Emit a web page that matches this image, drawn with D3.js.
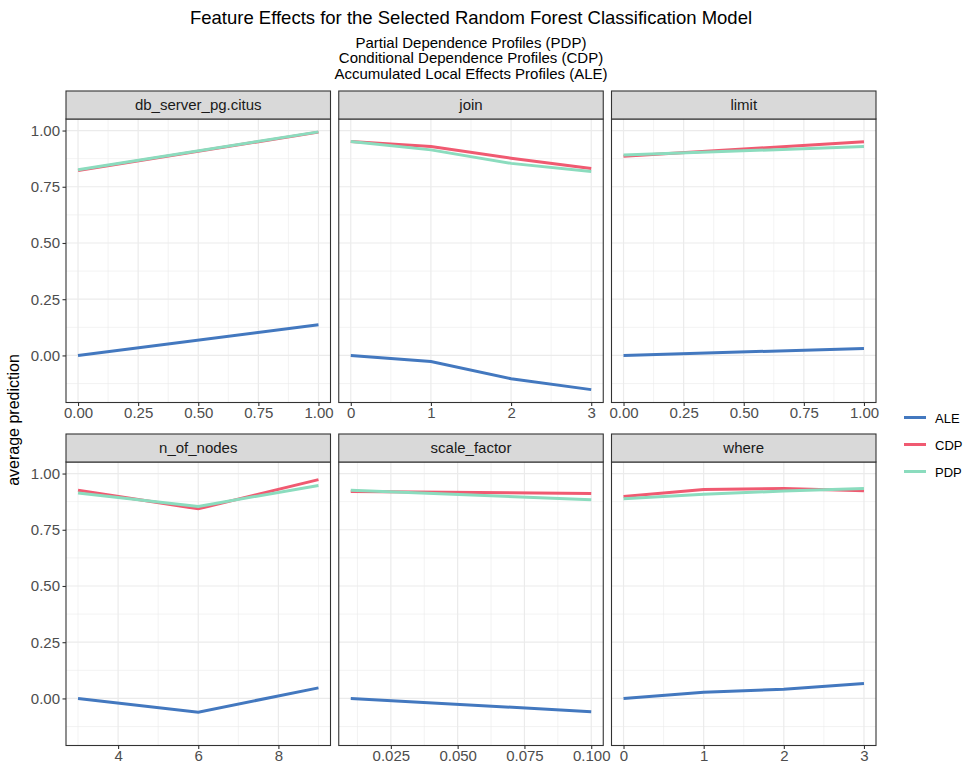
<!DOCTYPE html>
<html><head><meta charset="utf-8">
<script src="https://cdn.jsdelivr.net/npm/d3@7"></script>
<style>body{margin:0;background:#fff;} text{font-family:"Liberation Sans",Arial,sans-serif;}</style>
</head><body><svg id="c" width="964" height="767"></svg>
<script>
// ---- data ----
const panels = ["db_server_pg.citus","join","limit","n_of_nodes","scale_factor","where"];
const seriesNames = ["ALE","CDP","PDP"];
const colors = ["#4378bf","#f05a71","#8bdcbe"];
const xDb = [0,1];
const aleDb = [0.000,0.136];
const cdpDb = [0.822,0.993];
const pdpDb = [0.826,0.994];
const xJoin = [0,1,2,3];
const aleJoin = [0.000,-0.027,-0.104,-0.152];
const cdpJoin = [0.951,0.929,0.877,0.831];
const pdpJoin = [0.951,0.914,0.854,0.818];
const xLimit = [0,1];
const aleLimit = [0.000,0.031];
const cdpLimit = [0.886,0.950];
const pdpLimit = [0.891,0.929];
const xNodes = [3,6,9];
const aleNodes = [0.000,-0.061,0.047];
const cdpNodes = [0.926,0.843,0.973];
const pdpNodes = [0.913,0.854,0.947];
const xScale = [0.01,0.1];
const aleScale = [0.000,-0.059];
const cdpScale = [0.920,0.911];
const pdpScale = [0.926,0.883];
const xWhere = [0,1,2,3];
const aleWhere = [0.000,0.028,0.041,0.066];
const cdpWhere = [0.898,0.929,0.934,0.923];
const pdpWhere = [0.888,0.908,0.922,0.934];
const yTicks = [0,0.25,0.5,0.75,1];
const yTickLabels = ["0.00","0.25","0.50","0.75","1.00"];
const xTicksUnit = [0,0.25,0.5,0.75,1];
const xTickLabelsUnit = ["0.00","0.25","0.50","0.75","1.00"];
const xTicksInt = [0,1,2,3];
const xTickLabelsInt = ["0","1","2","3"];
const xTicksNodes = [4,6,8];
const xTickLabelsNodes = ["4","6","8"];
const xTicksScale = [0.025,0.05,0.075,0.1];
const xTickLabelsScale = ["0.025","0.050","0.075","0.100"];
const titleText = "Feature Effects for the Selected Random Forest Classification Model";
const subtitleLines = ["Partial Dependence Profiles (PDP)","Conditional Dependence Profiles (CDP)","Accumulated Local Effects Profiles (ALE)"];
const yLabel = "average prediction";

const panelData = [
  {x:xDb, s:[aleDb,cdpDb,pdpDb], ticks:xTicksUnit, labels:xTickLabelsUnit},
  {x:xJoin, s:[aleJoin,cdpJoin,pdpJoin], ticks:xTicksInt, labels:xTickLabelsInt},
  {x:xLimit, s:[aleLimit,cdpLimit,pdpLimit], ticks:xTicksUnit, labels:xTickLabelsUnit},
  {x:xNodes, s:[aleNodes,cdpNodes,pdpNodes], ticks:xTicksNodes, labels:xTickLabelsNodes},
  {x:xScale, s:[aleScale,cdpScale,pdpScale], ticks:xTicksScale, labels:xTickLabelsScale},
  {x:xWhere, s:[aleWhere,cdpWhere,pdpWhere], ticks:xTicksInt, labels:xTickLabelsInt}
];

// ---- layout ----
const svg = d3.select("#c");
const left0 = 66, pw = 264.5, gap = 8.25;
const rowTop = [91, 434], stripH = 28, ph = 283.5;
const tickFont = 15;

const allY = panelData.flatMap(p => p.s.flat());
const yMin = d3.min(allY), yMax = d3.max(allY), yPad = (yMax - yMin) * 0.05;

function minors(ticks, lo, hi){
  const st = ticks[1]-ticks[0];
  const out = [];
  const all = [ticks[0]-st, ...ticks, ticks[ticks.length-1]+st];
  for (let i=0;i<all.length-1;i++){ const m=(all[i]+all[i+1])/2; if(m>=lo && m<=hi) out.push(m); }
  return out;
}

panelData.forEach((p, i) => {
  const col = i % 3, row = Math.floor(i/3);
  const x0 = left0 + col*(pw+gap);
  const sy = rowTop[row];
  const py = sy + stripH;
  const g = svg.append("g");
  const xe = d3.extent(p.x), xpad = (xe[1]-xe[0])*0.05;
  const xs = d3.scaleLinear().domain([xe[0]-xpad, xe[1]+xpad]).range([x0, x0+pw]);
  const ys = d3.scaleLinear().domain([yMin-yPad, yMax+yPad]).range([py+ph, py]);
  g.append("rect").attr("x",x0).attr("y",py).attr("width",pw).attr("height",ph).attr("fill","#fff");
  const xd = xs.domain(), yd = ys.domain();
  const majT = p.ticks.filter(t=>t>=xd[0]&&t<=xd[1]);
  g.selectAll(null).data(minors(p.ticks, xd[0], xd[1])).join("line")
    .attr("x1",d=>xs(d)).attr("x2",d=>xs(d)).attr("y1",py).attr("y2",py+ph)
    .attr("stroke","#ebebeb").attr("stroke-width",0.6);
  g.selectAll(null).data(minors(yTicks, yd[0], yd[1])).join("line")
    .attr("x1",x0).attr("x2",x0+pw).attr("y1",d=>ys(d)).attr("y2",d=>ys(d))
    .attr("stroke","#ebebeb").attr("stroke-width",0.6);
  g.selectAll(null).data(majT).join("line")
    .attr("x1",d=>xs(d)).attr("x2",d=>xs(d)).attr("y1",py).attr("y2",py+ph)
    .attr("stroke","#ebebeb").attr("stroke-width",1.2);
  g.selectAll(null).data(yTicks).join("line")
    .attr("x1",x0).attr("x2",x0+pw).attr("y1",d=>ys(d)).attr("y2",d=>ys(d))
    .attr("stroke","#ebebeb").attr("stroke-width",1.2);
  p.s.forEach((vals, k) => {
    const pts = p.x.map((xv, j) => [xv, vals[j]]);
    g.append("path").datum(pts)
      .attr("d", d3.line().x(d=>xs(d[0])).y(d=>ys(d[1])))
      .attr("fill","none").attr("stroke",colors[k]).attr("stroke-width",3);
  });
  g.append("rect").attr("x",x0).attr("y",py).attr("width",pw).attr("height",ph)
    .attr("fill","none").attr("stroke","#333333").attr("stroke-width",1.1);
  g.append("rect").attr("x",x0).attr("y",sy).attr("width",pw).attr("height",stripH)
    .attr("fill","#d9d9d9").attr("stroke","#333333").attr("stroke-width",1.1);
  g.append("text").attr("x",x0+pw/2).attr("y",sy+stripH/2+5.2).attr("text-anchor","middle")
    .attr("font-size",15).attr("fill","#1a1a1a").text(panels[i]);
  const xa = d3.axisBottom(xs).tickValues(p.ticks).tickFormat((d,j)=>p.labels[j]).tickSize(3.5).tickPadding(1.5);
  const xg = g.append("g").attr("transform",`translate(0,${py+ph})`).call(xa);
  xg.select(".domain").remove();
  xg.selectAll(".tick line").attr("stroke","#333333").attr("stroke-width",1.1);
  xg.selectAll(".tick text").attr("fill","#4d4d4d").attr("font-size",tickFont).attr("font-family","Liberation Sans, Arial, sans-serif");
  if (col === 0) {
    const ya = d3.axisLeft(ys).tickValues(yTicks).tickFormat((d,j)=>yTickLabels[j]).tickSize(3.5).tickPadding(2.5);
    const yg = g.append("g").attr("transform",`translate(${x0},0)`).call(ya);
    yg.select(".domain").remove();
    yg.selectAll(".tick line").attr("stroke","#333333").attr("stroke-width",1.1);
    yg.selectAll(".tick text").attr("fill","#4d4d4d").attr("font-size",tickFont).attr("font-family","Liberation Sans, Arial, sans-serif");
  }
});

// titles
const cx = left0 + (3*pw+2*gap)/2;
svg.append("text").attr("x",cx).attr("y",23.5).attr("text-anchor","middle").attr("font-size",18.5).attr("fill","#000").text(titleText);
svg.selectAll(null).data(subtitleLines).join("text")
  .attr("x",cx).attr("y",(d,i)=>47.5+i*15.5).attr("text-anchor","middle").attr("font-size",15).attr("fill","#000").text(d=>d);
svg.append("text").attr("transform",`translate(19,${420}) rotate(-90)`).attr("text-anchor","middle")
  .attr("font-size",16).attr("fill","#000").text(yLabel);

// legend
const lg = svg.append("g");
seriesNames.forEach((n,k)=>{
  const y = 417.5 + k*27;
  lg.append("line").attr("x1",904).attr("x2",926).attr("y1",y).attr("y2",y).attr("stroke",colors[k]).attr("stroke-width",3);
  lg.append("text").attr("x",935).attr("y",y+5).attr("font-size",13).attr("fill","#000").text(n);
});
</script></body></html>
